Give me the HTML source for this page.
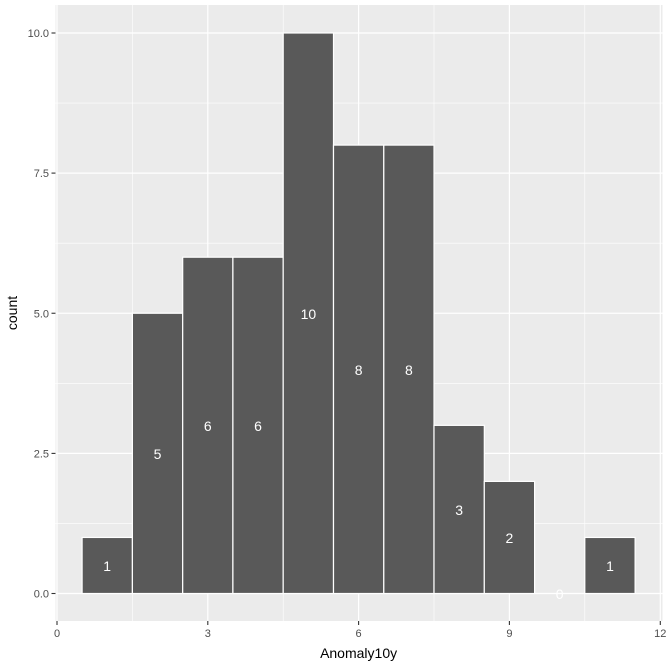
<!DOCTYPE html>
<html><head><style>body{margin:0;background:#fff}svg{display:block}</style></head><body>
<svg width="669" height="665" viewBox="0 0 669 665" xmlns="http://www.w3.org/2000/svg" font-family="Liberation Sans, sans-serif">
<rect x="55.5" y="5" width="607" height="616" fill="#ebebeb"/>
<g stroke="#fff" stroke-width="0.6">
<line x1="55.5" x2="662.5" y1="523.4" y2="523.4"/><line x1="55.5" x2="662.5" y1="383.3" y2="383.3"/><line x1="55.5" x2="662.5" y1="243.2" y2="243.2"/><line x1="55.5" x2="662.5" y1="103.1" y2="103.1"/>
<line y1="5" y2="621" x1="132.4" x2="132.4"/><line y1="5" y2="621" x1="283.2" x2="283.2"/><line y1="5" y2="621" x1="434" x2="434"/><line y1="5" y2="621" x1="584.8" x2="584.8"/>
</g>
<g stroke="#fff" stroke-width="1.2">
<line x1="55.5" x2="662.5" y1="593.5" y2="593.5"/><line x1="55.5" x2="662.5" y1="453.4" y2="453.4"/><line x1="55.5" x2="662.5" y1="313.25" y2="313.25"/><line x1="55.5" x2="662.5" y1="173.1" y2="173.1"/><line x1="55.5" x2="662.5" y1="33" y2="33"/>
<line y1="5" y2="621" x1="57" x2="57"/><line y1="5" y2="621" x1="207.8" x2="207.8"/><line y1="5" y2="621" x1="358.6" x2="358.6"/><line y1="5" y2="621" x1="509.4" x2="509.4"/><line y1="5" y2="621" x1="660.3" x2="660.3"/>
</g>
<g fill="#595959" stroke="#fff" stroke-width="1.2">
<rect x="82.1" y="537.45" width="50.3" height="56.05"/>
<rect x="132.4" y="313.25" width="50.3" height="280.25"/>
<rect x="182.7" y="257.2" width="50.2" height="336.3"/>
<rect x="232.9" y="257.2" width="50.3" height="336.3"/>
<rect x="283.2" y="33" width="50.3" height="560.5"/>
<rect x="333.5" y="145.1" width="50.3" height="448.4"/>
<rect x="383.8" y="145.1" width="50.2" height="448.4"/>
<rect x="434" y="425.35" width="50.3" height="168.15"/>
<rect x="484.3" y="481.4" width="50.3" height="112.1"/>
<rect x="584.8" y="537.45" width="50.3" height="56.05"/>
</g>
<g fill="#fff" font-size="14" text-anchor="middle" dominant-baseline="central">
<text x="107.2" y="566">1</text><text x="157.5" y="454">5</text><text x="207.8" y="426">6</text><text x="258" y="426">6</text><text x="308.4" y="314">10</text><text x="358.6" y="370">8</text><text x="408.9" y="370">8</text><text x="459.2" y="510">3</text><text x="509.4" y="538">2</text><text x="559.7" y="594">0</text><text x="610" y="566">1</text>
</g>
<g stroke="#333" stroke-width="1.1">
<line x1="51.5" x2="55.5" y1="593.5" y2="593.5"/><line x1="51.5" x2="55.5" y1="453.4" y2="453.4"/><line x1="51.5" x2="55.5" y1="313.25" y2="313.25"/><line x1="51.5" x2="55.5" y1="173.1" y2="173.1"/><line x1="51.5" x2="55.5" y1="33" y2="33"/>
<line y1="621" y2="625" x1="57" x2="57"/><line y1="621" y2="625" x1="207.8" x2="207.8"/><line y1="621" y2="625" x1="358.6" x2="358.6"/><line y1="621" y2="625" x1="509.4" x2="509.4"/><line y1="621" y2="625" x1="660.3" x2="660.3"/>
</g>
<g fill="#4d4d4d" font-size="11" text-anchor="end">
<text x="49" y="597.5">0.0</text><text x="49" y="457.4">2.5</text><text x="49" y="317.3">5.0</text><text x="49" y="177.1">7.5</text><text x="49" y="37">10.0</text>
</g>
<g fill="#4d4d4d" font-size="11" text-anchor="middle">
<text x="57" y="637">0</text><text x="207.8" y="637">3</text><text x="358.6" y="637">6</text><text x="509.4" y="637">9</text><text x="660.3" y="637">12</text>
</g>
<text x="358.6" y="658" font-size="14" text-anchor="middle" fill="#000">Anomaly10y</text>
<text transform="translate(17,313) rotate(-90)" font-size="14" text-anchor="middle" fill="#000">count</text>
</svg>
</body></html>
